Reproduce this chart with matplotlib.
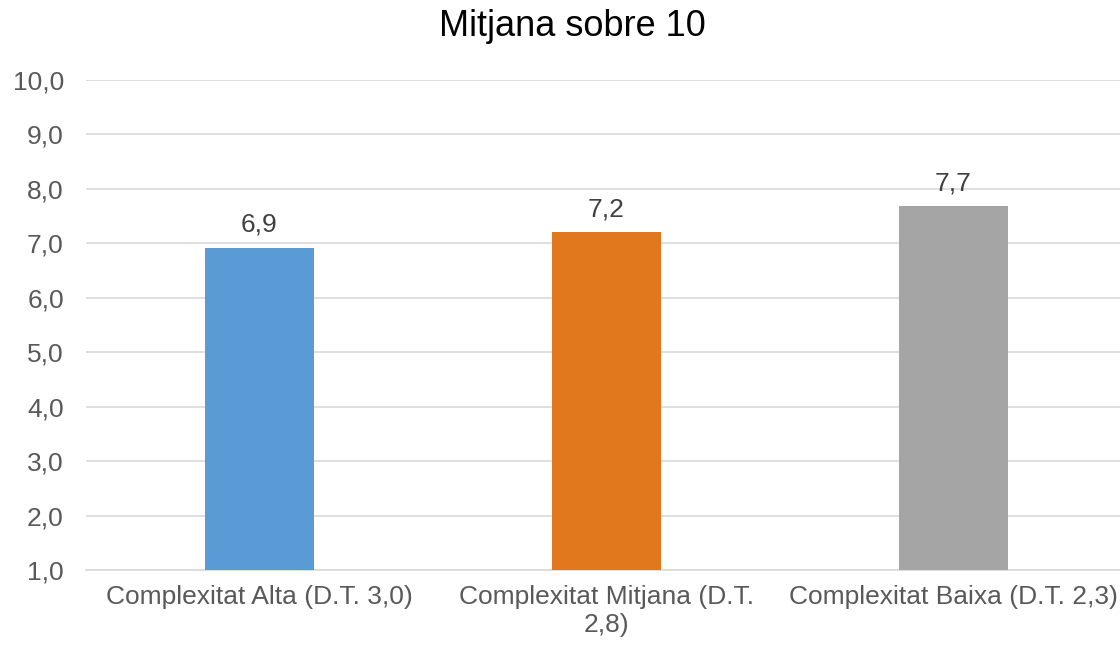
import matplotlib.pyplot as plt
import numpy as np

plt.rcParams["font.family"] = ["Liberation Sans", "DejaVu Sans"]

categories = ["Complexitat Alta (D.T. 3,0)", "Complexitat Mitjana (D.T.\n2,8)", "Complexitat Baixa (D.T. 2,3)"]
values = [6.92, 7.21, 7.68]
labels = ["6,9", "7,2", "7,7"]
colors = ["#5B9BD5", "#E2781E", "#A5A5A5"]
yticks = [1, 2, 3, 4, 5, 6, 7, 8, 9, 10]

fig = plt.figure(figsize=(11.2, 6.48), dpi=100)
ax = fig.add_axes([86 / 1120, 1 - 570 / 648, 1041 / 1120, 490 / 648])

x = np.arange(len(categories))
bars = ax.bar(x, values, width=0.317, color=colors, zorder=3)
for b, lab in zip(bars, labels):
    ax.text(b.get_x() + b.get_width() / 2, b.get_height() + 0.2, lab,
            ha="center", va="bottom", fontsize=19, color="#404040")

ax.set_xlim(-0.5, 2.5)
ax.set_ylim(1, 10)
ax.set_yticks(yticks)
ax.set_yticklabels([f"{v:.1f}".replace(".", ",") for v in yticks])
ax.set_xticks(x)
ax.set_xticklabels(categories, linespacing=1.25)
ax.tick_params(axis="both", length=0, labelsize=19, labelcolor="#595959")
ax.tick_params(axis="x", pad=10.5)
ax.tick_params(axis="y", pad=16)
ax.grid(axis="y", color="#D9D9D9", linewidth=1.2, zorder=0)
for s in ["top", "right", "left"]:
    ax.spines[s].set_visible(False)
ax.spines["bottom"].set_color("#D9D9D9")
ax.spines["bottom"].set_linewidth(1.2)

fig.text(0.511, 1 - 26 / 648, "Mitjana sobre 10", ha="center", va="center",
         fontsize=26, color="#000000")

fig.savefig("out.png", dpi=100, facecolor="white")
